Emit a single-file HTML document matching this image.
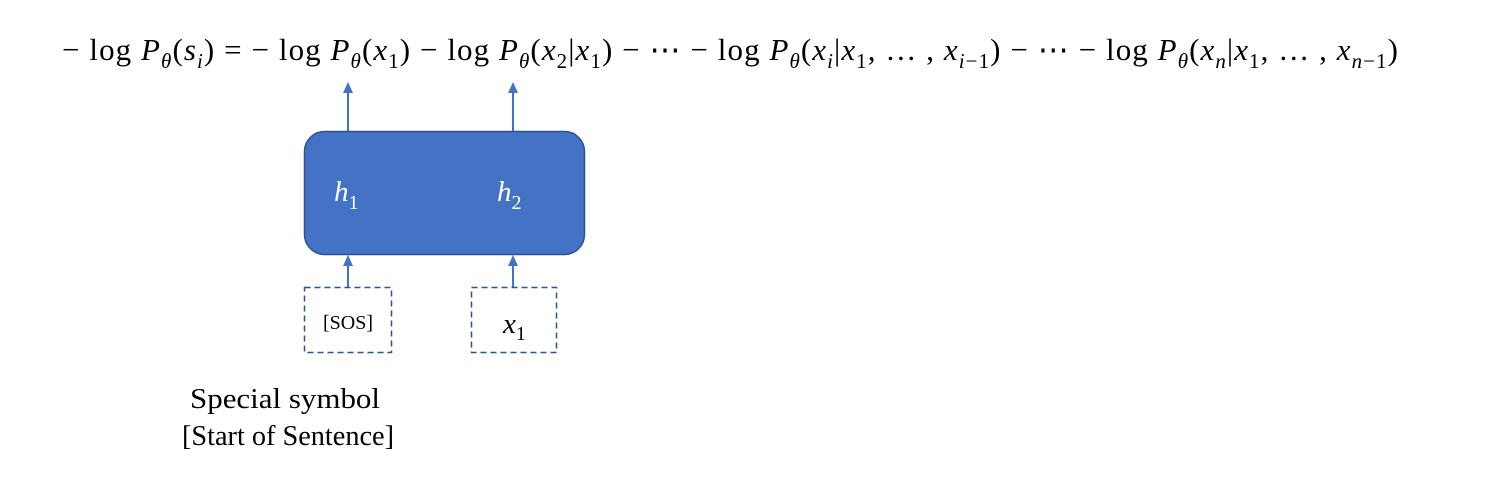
<!DOCTYPE html>
<html><head><meta charset="utf-8"><style>
html,body{margin:0;padding:0;background:#fff;}
svg{display:block}
.eq{font-family:"Liberation Serif",serif;font-size:31px;fill:#000}
.i{font-style:italic}
.s{font-size:21px}
</style></head><body>
<svg width="1491" height="478" viewBox="0 0 1491 478" xmlns="http://www.w3.org/2000/svg">
<text class="eq" x="62" y="60" textLength="1336" lengthAdjust="spacing">− log <tspan class="i">P</tspan><tspan class="s i" dy="8">θ</tspan><tspan dy="-8">(</tspan><tspan class="i">s</tspan><tspan class="s i" dy="8">i</tspan><tspan dy="-8">) = − log </tspan><tspan class="i">P</tspan><tspan class="s i" dy="8">θ</tspan><tspan dy="-8">(</tspan><tspan class="i">x</tspan><tspan class="s" dy="8">1</tspan><tspan dy="-8">) − log </tspan><tspan class="i">P</tspan><tspan class="s i" dy="8">θ</tspan><tspan dy="-8">(</tspan><tspan class="i">x</tspan><tspan class="s" dy="8">2</tspan><tspan dy="-8">|</tspan><tspan class="i">x</tspan><tspan class="s" dy="8">1</tspan><tspan dy="-8">) − ⋯ − log </tspan><tspan class="i">P</tspan><tspan class="s i" dy="8">θ</tspan><tspan dy="-8">(</tspan><tspan class="i">x</tspan><tspan class="s i" dy="8">i</tspan><tspan dy="-8">|</tspan><tspan class="i">x</tspan><tspan class="s" dy="8">1</tspan><tspan dy="-8">, … , </tspan><tspan class="i">x</tspan><tspan class="s" dy="8"><tspan class="i">i</tspan>−1</tspan><tspan dy="-8">) − ⋯ − log </tspan><tspan class="i">P</tspan><tspan class="s i" dy="8">θ</tspan><tspan dy="-8">(</tspan><tspan class="i">x</tspan><tspan class="s i" dy="8">n</tspan><tspan dy="-8">|</tspan><tspan class="i">x</tspan><tspan class="s" dy="8">1</tspan><tspan dy="-8">, … , </tspan><tspan class="i">x</tspan><tspan class="s" dy="8"><tspan class="i">n</tspan>−1</tspan><tspan dy="-8">)</tspan></text>

<g stroke="#4472C4" stroke-width="2">
<line x1="348" y1="131" x2="348" y2="90"/>
<line x1="513" y1="131" x2="513" y2="90"/>
<line x1="348" y1="287" x2="348" y2="262"/>
<line x1="513" y1="287" x2="513" y2="262"/>
</g>
<g fill="#4472C4">
<polygon points="348,82 343,93 353,93"/>
<polygon points="513,82 508,93 518,93"/>
<polygon points="348,255 343,266 353,266"/>
<polygon points="513,255 508,266 518,266"/>
</g>

<rect x="304.5" y="131.5" width="280" height="123" rx="20" fill="#4472C4" stroke="#2F528F" stroke-width="1.5"/>
<text x="334" y="201" font-family="Liberation Serif,serif" font-size="29" font-style="italic" fill="#fff">h<tspan font-size="20" font-style="normal" dy="8">1</tspan></text>
<text x="497" y="201" font-family="Liberation Serif,serif" font-size="29" font-style="italic" fill="#fff">h<tspan font-size="20" font-style="normal" dy="8">2</tspan></text>

<rect x="304.5" y="287.5" width="87" height="65" fill="#fff" stroke="#2F528F" stroke-width="1.5" stroke-dasharray="6,4"/>
<rect x="471.5" y="287.5" width="85" height="65" fill="#fff" stroke="#2F528F" stroke-width="1.5" stroke-dasharray="6,4"/>
<text x="348" y="329" text-anchor="middle" font-family="Liberation Serif,serif" font-size="20" fill="#000">[SOS]</text>
<text x="503" y="333" font-family="Liberation Serif,serif" font-size="29" font-style="italic" fill="#000">x<tspan font-size="20" font-style="normal" dy="7">1</tspan></text>

<text x="285" y="408" text-anchor="middle" font-family="Liberation Serif,serif" font-size="28" fill="#000" textLength="190" lengthAdjust="spacingAndGlyphs">Special symbol</text>
<text x="288" y="445" text-anchor="middle" font-family="Liberation Serif,serif" font-size="28" fill="#000" textLength="212" lengthAdjust="spacingAndGlyphs">[Start of Sentence]</text>
</svg>
</body></html>
